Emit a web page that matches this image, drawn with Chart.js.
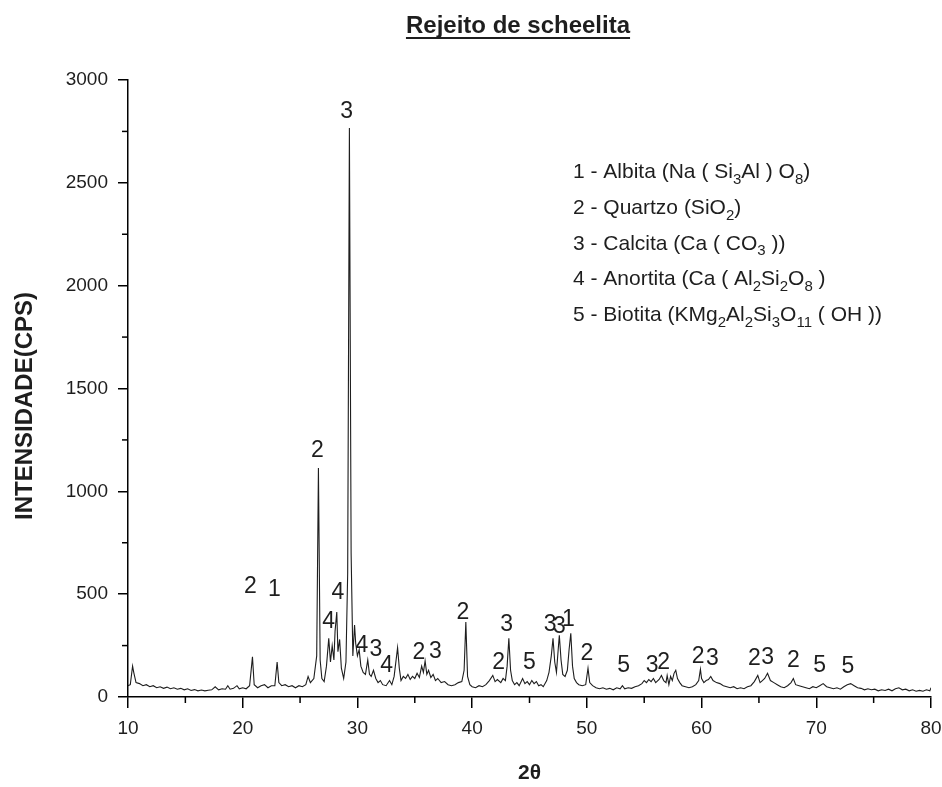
<!DOCTYPE html>
<html><head><meta charset="utf-8">
<script src="https://cdn.jsdelivr.net/npm/chart.js@4/dist/chart.umd.min.js"></script>
<style>html,body{margin:0;padding:0;background:#fff}canvas{display:block}</style>
</head><body>
<canvas id="c" width="942" height="787"></canvas>
<script>
const chartTitle = "Rejeito de scheelita";
const yTitle = "INTENSIDADE(CPS)";
const xTitle = "2θ";

const angles = [10.0,10.2,10.4,10.5,10.7,11.0,11.3,11.6,11.9,12.2,12.5,12.8,13.1,13.4,13.7,14.0,14.3,14.6,14.9,15.2,15.5,15.8,16.1,16.4,16.7,17.0,17.3,17.6,17.9,18.2,18.5,18.7,18.9,19.2,19.5,19.7,20.0,20.3,20.6,20.85,21.0,21.3,21.6,21.9,22.2,22.5,22.8,23.0,23.15,23.4,23.7,24.0,24.3,24.6,24.9,25.2,25.5,25.7,25.9,26.2,26.45,26.6,26.75,26.9,27.1,27.3,27.5,27.65,27.8,27.95,28.05,28.2,28.3,28.45,28.6,28.8,29.0,29.15,29.3,29.45,29.6,29.75,29.85,30.0,30.15,30.3,30.5,30.7,30.9,31.05,31.2,31.4,31.6,31.8,32.0,32.2,32.5,32.8,33.0,33.2,33.5,33.65,33.8,34.0,34.2,34.4,34.6,34.8,35.0,35.2,35.4,35.6,35.75,35.9,36.05,36.2,36.4,36.6,36.8,37.0,37.3,37.6,37.9,38.2,38.5,38.8,39.1,39.3,39.45,39.6,39.8,40.0,40.3,40.6,40.9,41.2,41.5,41.8,42.0,42.2,42.5,42.7,42.9,43.05,43.2,43.35,43.5,43.7,43.9,44.1,44.4,44.6,44.8,45.0,45.2,45.4,45.6,45.8,46.0,46.2,46.5,46.7,46.9,47.05,47.2,47.35,47.5,47.6,47.75,47.9,48.1,48.3,48.45,48.6,48.75,48.9,49.1,49.3,49.6,49.9,50.1,50.25,50.5,50.8,51.1,51.4,51.7,52.0,52.3,52.6,52.9,53.1,53.3,53.6,53.9,54.2,54.5,54.8,55.0,55.2,55.4,55.6,55.8,56.0,56.3,56.5,56.7,56.9,57.0,57.15,57.3,57.45,57.6,57.75,57.9,58.1,58.3,58.6,58.9,59.2,59.5,59.75,59.9,60.0,60.2,60.4,60.6,60.8,61.0,61.3,61.6,61.9,62.2,62.5,62.8,63.1,63.4,63.7,64.0,64.3,64.6,64.9,65.1,65.3,65.5,65.75,66.0,66.3,66.6,66.9,67.2,67.5,67.8,68.0,68.2,68.5,68.8,69.1,69.4,69.7,70.0,70.3,70.6,70.9,71.2,71.5,71.8,72.1,72.4,72.7,73.0,73.3,73.6,73.9,74.2,74.5,74.8,75.1,75.4,75.7,76.0,76.3,76.6,76.9,77.2,77.5,77.8,78.1,78.4,78.7,79.0,79.3,79.6,79.9,80.0];
const counts = [55,60,150,120,70,65,55,60,50,55,45,50,42,48,40,45,38,42,35,40,32,36,30,34,30,33,35,50,35,40,38,55,38,42,55,40,45,40,55,195,60,45,55,60,45,55,55,170,70,55,60,50,55,45,55,50,60,100,70,90,200,1113,180,90,75,150,285,170,250,180,320,413,220,280,140,90,170,600,2766,700,200,350,260,200,230,150,120,110,180,110,100,130,90,70,80,60,55,80,60,100,240,140,80,100,90,110,85,100,90,115,95,150,120,175,110,130,95,110,80,90,70,75,60,55,60,70,75,130,365,100,60,50,45,55,50,60,80,105,75,85,70,90,80,150,285,130,80,60,70,55,90,65,75,60,80,65,75,55,60,50,80,120,200,285,170,120,230,300,180,110,100,130,230,310,150,90,70,60,55,60,140,70,55,45,40,45,38,42,35,45,40,55,40,45,42,50,55,65,80,70,85,75,90,70,85,105,80,70,105,60,100,80,115,130,90,70,55,50,45,50,60,80,135,90,70,80,85,100,80,70,65,55,50,45,50,40,45,40,50,55,75,105,70,80,90,115,80,70,60,50,45,55,70,90,60,55,50,45,40,50,45,55,65,50,45,40,45,38,50,60,65,55,45,42,35,40,35,38,30,35,32,38,30,40,45,35,38,30,35,28,32,28,35,30,45];

const peakAngles  = [20.66,22.76,26.5,27.5,28.3,29.05,30.4,31.6,32.55,35.35,36.8,39.2,42.3,43.0,45.0,46.8,47.6,48.4,50.0,53.2,55.7,56.7,59.7,60.95,64.6,65.75,68.0,70.3,72.75];
const peakHeights = [535,520,1200,365,505,2845,248,228,150,214,219,408,165,350,165,350,340,375,209,150,150,165,195,185,185,190,175,150,146];
const peakTexts   = ["2","1","2","4","4","3","4","3","4","2","3","2","2","3","5","3","3","1","2","5","3","2","2","3","2","3","2","5","5"];

const legendLines = [
  "1 - Albita (Na ( Si_{3}Al ) O_{8})",
  "2 - Quartzo (SiO_{2})",
  "3 - Calcita (Ca ( CO_{3} ))",
  "4 - Anortita (Ca ( Al_{2}Si_{2}O_{8} )",
  "5 - Biotita (KMg_{2}Al_{2}Si_{3}O_{11} ( OH ))"
];

const xMinorTicks = [15,25,35,45,55,65,75];
const yMinorTicks = [250,750,1250,1750,2250,2750];

const FONT = '"Liberation Sans", Arial, sans-serif';
const INK = '#1e1e1e';

function drawRich(ctx, str, x, y, size){
  const parts = str.split(/(_\{[^}]*\})/);
  let cx = x;
  parts.forEach(p => {
    if (!p) return;
    if (p.startsWith('_{')) {
      const s = p.slice(2, -1);
      ctx.font = Math.round(size * 0.72) + 'px ' + FONT;
      ctx.fillText(s, cx, y + size * 0.28);
      cx += ctx.measureText(s).width;
    } else {
      ctx.font = size + 'px ' + FONT;
      ctx.fillText(p, cx, y);
      cx += ctx.measureText(p).width;
    }
  });
}

const deco = {
  id: 'deco',
  afterDraw(chart){
    const ctx = chart.ctx, xs = chart.scales.x, ys = chart.scales.y;
    const area = chart.chartArea;
    ctx.save();
    ctx.strokeStyle = '#000'; ctx.lineWidth = 1.5;
    yMinorTicks.forEach(v => { const p = ys.getPixelForValue(v); ctx.beginPath(); ctx.moveTo(area.left - 6, p); ctx.lineTo(area.left, p); ctx.stroke(); });
    xMinorTicks.forEach(v => { const p = xs.getPixelForValue(v); ctx.beginPath(); ctx.moveTo(p, area.bottom); ctx.lineTo(p, area.bottom + 6); ctx.stroke(); });

    ctx.fillStyle = INK;
    ctx.font = '23px ' + FONT; ctx.textAlign = 'center'; ctx.textBaseline = 'middle';
    peakTexts.forEach((t, i) => ctx.fillText(t, xs.getPixelForValue(peakAngles[i]), ys.getPixelForValue(peakHeights[i])));

    // title with underline
    ctx.font = 'bold 24px ' + FONT; ctx.textAlign = 'center'; ctx.textBaseline = 'alphabetic';
    const tx = 518, ty = 33;
    ctx.fillText(chartTitle, tx, ty);
    const tw = ctx.measureText(chartTitle).width;
    ctx.fillRect(tx - tw / 2, ty + 4, tw, 2);

    // y title
    ctx.save();
    ctx.translate(25, 406); ctx.rotate(-Math.PI / 2);
    ctx.font = 'bold 24px ' + FONT; ctx.textAlign = 'center'; ctx.textBaseline = 'middle';
    ctx.fillText(yTitle, 0, 0);
    ctx.restore();

    // legend
    ctx.textAlign = 'left'; ctx.textBaseline = 'alphabetic';
    legendLines.forEach((l, i) => drawRich(ctx, l, 573, 178 + i * 35.8, 21));
    ctx.restore();
  }
};

new Chart(document.getElementById('c'), {
  type: 'line',
  data: {
    datasets: [{
      data: angles.map((a, i) => ({x: a, y: counts[i]})),
      borderColor: INK, borderWidth: 1.1, pointRadius: 0, tension: 0, fill: false
    }]
  },
  options: {
    responsive: false, animation: false,
    layout: { padding: { top: 80, right: 0, bottom: 0, left: 0 } },
    plugins: { legend: { display: false }, tooltip: { enabled: false }, title: { display: false } },
    scales: {
      x: {
        type: 'linear', min: 10, max: 80,
        ticks: { stepSize: 10, color: INK, font: { size: 19, family: FONT }, padding: 9, maxRotation: 0 },
        grid: { drawOnChartArea: false, tickLength: 11, color: '#000', lineWidth: 1.5 },
        border: { display: true, color: '#000', width: 1.5 },
        title: { display: true, text: xTitle, color: INK, font: { size: 21, weight: 'bold', family: FONT }, padding: { top: 0, bottom: 1 } },
        afterFit(s){ s.height = 90; s.paddingLeft = 0; s.paddingRight = 11; }
      },
      y: {
        min: 0, max: 3000,
        ticks: { stepSize: 500, color: INK, font: { size: 19, family: FONT }, padding: 10, callback: v => String(v) },
        grid: { drawOnChartArea: false, tickLength: 10, color: '#000', lineWidth: 1.5 },
        border: { display: true, color: '#000', width: 1.5 },
        afterFit(s){ s.width = 128; }
      }
    }
  },
  plugins: [deco]
});
</script>
</body></html>
